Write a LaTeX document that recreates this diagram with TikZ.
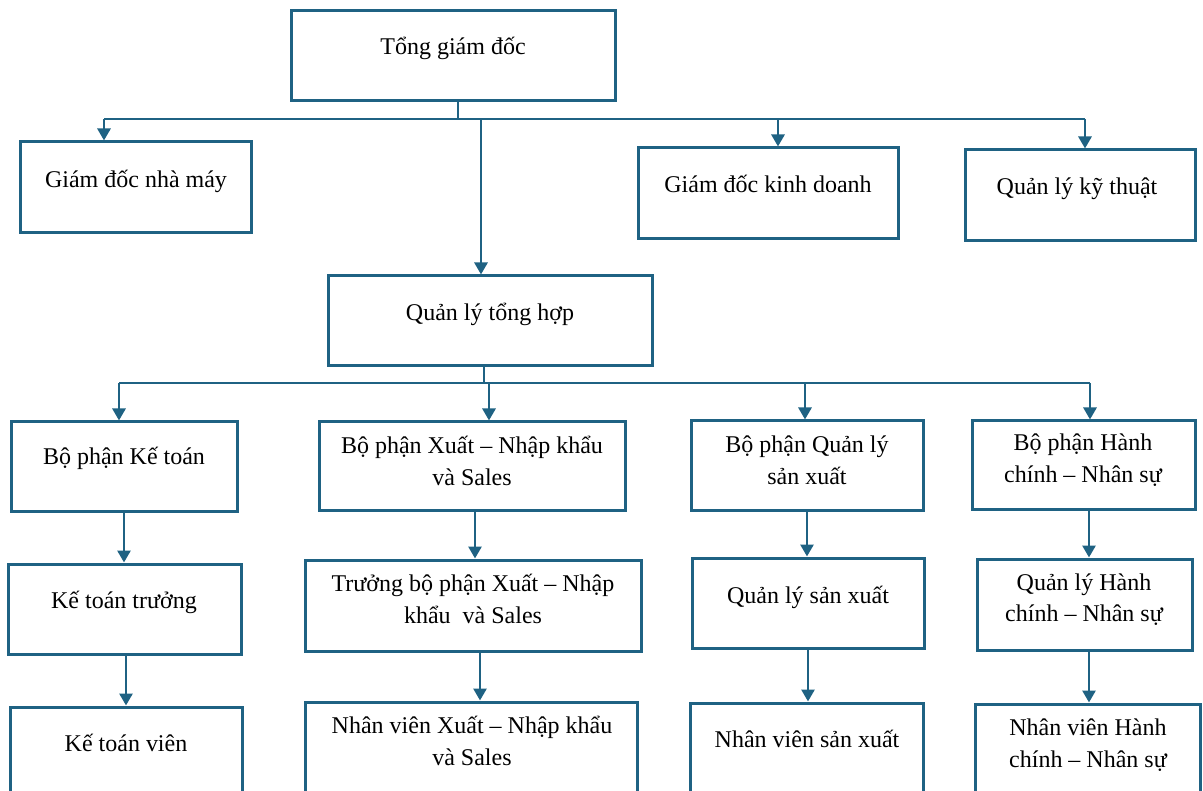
\documentclass[tikz,border=0pt]{standalone}
\usepackage{fontspec}
\setmainfont{Liberation Serif}
\usetikzlibrary{arrows.meta,fit}
\definecolor{orgline}{RGB}{31,98,131}
\begin{document}
\begin{tikzpicture}[x=1pt,y=-1pt,
  box/.style={draw=orgline, line width=3pt, inner sep=0pt, fill=white},
  lbl/.style={inner sep=0pt, anchor=base, font=\fontsize{24}{32}\selectfont},
  link/.style={draw=orgline, line width=2.8pt},
  arr/.style={link, -{Triangle[length=12pt,width=13pt]}}]
\useasboundingbox (0,0) rectangle (1203,791);
\clip (0,0) rectangle (1203,791);

% ---------- boxes ----------
\node[box, fit={(291,11) (615,101)}]   (root) {};
\node[box, fit={(20,142) (251,233)}]   (gdnm) {};
\node[box, fit={(638,148) (898,239)}]  (gdkd) {};
\node[box, fit={(965,150) (1195,241)}] (qlkt) {};
\node[box, fit={(328,276) (652,366)}]  (qlth) {};

\node[box, fit={(11,422) (237,512)}]   (bpkt) {};
\node[box, fit={(319,422) (625,511)}]  (bpx)  {};
\node[box, fit={(691,421) (923,511)}]  (bpql) {};
\node[box, fit={(972,421) (1195,510)}] (bphc) {};

\node[box, fit={(8,564) (241,654)}]    (ktt)  {};
\node[box, fit={(305,560) (641,651)}]  (tbpx) {};
\node[box, fit={(692,558) (924,648)}]  (qlsx) {};
\node[box, fit={(977,559) (1192,650)}] (qlhc) {};

\node[box, fit={(10,707) (242,840)}]   (ktv)  {};
\node[box, fit={(305,702) (637,840)}]  (nvx)  {};
\node[box, fit={(690,703) (923,840)}]  (nvsx) {};
\node[box, fit={(975,704) (1200,840)}] (nvhc) {};

% ---------- labels ----------
\node[lbl] (t-root) at (453,55)  {Tổng giám đốc};
\node[lbl] (t-gdnm) at (136,188) {Giám đốc nhà máy};
\node[lbl] (t-gdkd) at (768,193) {Giám đốc kinh doanh};
\node[lbl] (t-qlkt) at (1077,195) {Quản lý kỹ thuật};
\node[lbl] (t-qlth) at (490,321) {Quản lý tổng hợp};

\node[lbl] (t-bpkt) at (124,465) {Bộ phận Kế toán};
\node[lbl] (t-bpx)  at (472,454) {\parbox[t]{320pt}{\centering Bộ phận Xuất – Nhập khẩu\\ và Sales}};
\node[lbl] (t-bpql) at (807,453) {\parbox[t]{240pt}{\centering Bộ phận Quản lý\\ sản xuất}};
\node[lbl] (t-bphc) at (1083,451) {\parbox[t]{230pt}{\centering Bộ phận Hành\\ chính – Nhân sự}};

\node[lbl] (t-ktt)  at (124,608) {Kế toán trưởng};
\node[lbl] (t-tbpx) at (473,591) {\parbox[t]{340pt}{\centering Trưởng bộ phận Xuất – Nhập\\ khẩu\ \ và Sales}};
\node[lbl] (t-qlsx) at (808,603) {Quản lý sản xuất};
\node[lbl] (t-qlhc) at (1084,590) {\parbox[t]{220pt}{\centering Quản lý Hành\\ chính – Nhân sự}};

\node[lbl] (t-ktv)  at (126,751) {Kế toán viên};
\node[lbl] (t-nvx)  at (472,733) {\parbox[t]{340pt}{\centering Nhân viên Xuất – Nhập khẩu\\ và Sales}};
\node[lbl] (t-nvsx) at (807,747) {Nhân viên sản xuất};
\node[lbl] (t-nvhc) at (1088,735) {\parbox[t]{230pt}{\centering Nhân viên Hành\\ chính – Nhân sự}};

% ---------- connector columns and buses ----------
\coordinate (busA) at (0,119);
\coordinate (busB) at (0,383);
\coordinate (dropA) at (458,0);
\coordinate (dropB) at (484,0);
\coordinate (cA1) at (104,0);
\coordinate (cA2) at (481,0);
\coordinate (cA3) at (778,0);
\coordinate (cA4) at (1085,0);
\coordinate (cB1) at (119,0);
\coordinate (cB2) at (489,0);
\coordinate (cB3) at (805,0);
\coordinate (cB4) at (1090,0);

% level 1: Tổng giám đốc
\draw[link] (root.south -| dropA) -- (busA -| dropA);
\draw[link] (busA -| cA1) -- (busA -| cA4);
\draw[arr] (busA -| cA1) -- (gdnm.north -| cA1);
\draw[arr] (busA -| cA2) -- (qlth.north -| cA2);
\draw[arr] (busA -| cA3) -- (gdkd.north -| cA3);
\draw[arr] (busA -| cA4) -- (qlkt.north -| cA4);

% level 2: Quản lý tổng hợp
\draw[link] (qlth.south -| dropB) -- (busB -| dropB);
\draw[link] (busB -| cB1) -- (busB -| cB4);
\draw[arr] (busB -| cB1) -- (bpkt.north -| cB1);
\draw[arr] (busB -| cB2) -- (bpx.north -| cB2);
\draw[arr] (busB -| cB3) -- (bpql.north -| cB3);
\draw[arr] (busB -| cB4) -- (bphc.north -| cB4);

% department chains
\coordinate (k1) at (124,0);  \coordinate (k2) at (126,0);
\coordinate (x1) at (475,0);  \coordinate (x2) at (480,0);
\coordinate (s1) at (807,0);  \coordinate (s2) at (808,0);
\coordinate (h1) at (1089,0); \coordinate (h2) at (1089,0);

\draw[arr] (bpkt.south -| k1) -- (ktt.north -| k1);
\draw[arr] (ktt.south -| k2)  -- (ktv.north -| k2);
\draw[arr] (bpx.south -| x1)  -- (tbpx.north -| x1);
\draw[arr] (tbpx.south -| x2) -- (nvx.north -| x2);
\draw[arr] (bpql.south -| s1) -- (qlsx.north -| s1);
\draw[arr] (qlsx.south -| s2) -- (nvsx.north -| s2);
\draw[arr] (bphc.south -| h1) -- (qlhc.north -| h1);
\draw[arr] (qlhc.south -| h2) -- (nvhc.north -| h2);
\end{tikzpicture}
\end{document}
